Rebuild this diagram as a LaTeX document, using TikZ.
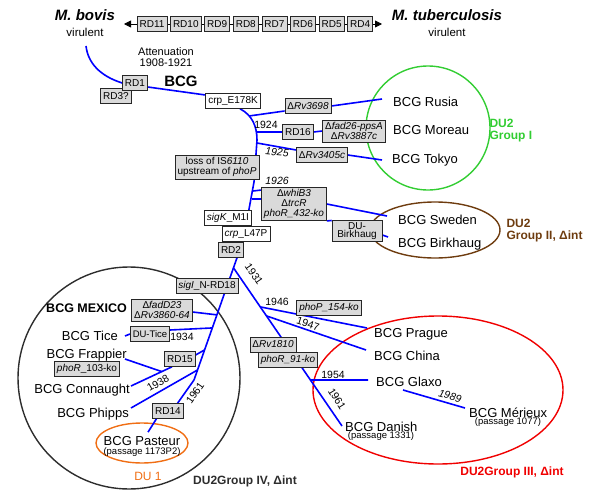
\documentclass[tikz,border=0pt]{standalone}
\usepackage{fontspec}
\setmainfont{Liberation Sans}
\usepackage{tikz}
\usetikzlibrary{positioning}
\usetikzlibrary{arrows.meta}

\definecolor{boxgray}{RGB}{218,218,218}
\definecolor{grpgreen}{RGB}{50,205,50}
\definecolor{grpbrown}{RGB}{110,60,15}
\definecolor{grporange}{RGB}{240,110,20}
\definecolor{grpred}{RGB}{240,0,0}
\definecolor{grpgray}{RGB}{45,45,45}

\pgfdeclarelayer{bg}
\pgfsetlayers{bg,main}

\begin{document}
\begin{tikzpicture}[x = 1pt, y = -1pt, node distance = 3pt,
                    gbox/.style    = {rectangle,
                                      draw = black!85,
                                      line width = 0.6pt,
                                      fill = boxgray,
                                      inner xsep = 2.5pt,
                                      inner ysep = 2pt,
                                      minimum height = 15pt,
                                      align = center,
                                      font = \fontsize{10}{10.5}\selectfont},
                    wbox/.style    = {gbox, fill = white},
                    strain/.style  = {inner sep = 1pt,
                                      text height = 9.3pt,
                                      text depth = 0pt,
                                      font = \fontsize{13}{14}\selectfont},
                    year/.style    = {inner sep = 0pt,
                                      font = \fontsize{10.5}{11}\selectfont},
                    passage/.style = {inner sep = 0pt,
                                      font = \fontsize{9.5}{10}\selectfont},
                    grplabel/.style = {anchor = west, align = left,
                                      font = \fontsize{12}{12}\selectfont\bfseries},
                    lineage/.style = {blue, line width = 1.6pt},
                    group/.style   = {line width = 1.4pt}]

\useasboundingbox (0,0) rectangle (589,495);

\node[font = \fontsize{15}{16}\selectfont\bfseries\itshape] (bovis) at (85,15) {M. bovis};
\node[font = \fontsize{11.5}{12}\selectfont] (bovisvir) at (85,32) {virulent};
\node[font = \fontsize{15}{16}\selectfont\bfseries\itshape] (tb) at (447,15) {M. tuberculosis};
\node[font = \fontsize{11.5}{12}\selectfont] (tbvir) at (447,32) {virulent};

\node[gbox] (RD11) at (152,24) {RD11};
\node[gbox] (RD10) [right = of RD11] {RD10};
\node[gbox] (RD9) [right = of RD10] {RD9};
\node[gbox] (RD8) [right = of RD9] {RD8};
\node[gbox] (RD7) [right = of RD8] {RD7};
\node[gbox] (RD6) [right = of RD7] {RD6};
\node[gbox] (RD5) [right = of RD6] {RD5};
\node[gbox] (RD4) [right = of RD5] {RD4};
\coordinate (arrL) at (124,24);
\coordinate (arrR) at (382,24);

\node[align = center, font = \fontsize{11}{10.5}\selectfont] (atten) at (166,57) {Attenuation\\1908-1921};
\node[font = \fontsize{15}{16}\selectfont\bfseries] (bcg) at (181,81) {BCG};
\coordinate (bovisroot) at (86,46);

\node[gbox] (rd3) at (116,96) {RD3?};
\node[gbox] (rd1) at (135,83) {RD1};
\node[wbox] (e178) at (233,101) {crp\_E178K};
\node[gbox] (d3698) at (308,106) {Δ\textit{Rv3698}};
\node[gbox] (rd16) at (298,132) {RD16};
\node[gbox] (fad26) at (354,131) {Δ\textit{fad26-ppsA}\\Δ\textit{Rv3887c}};
\node[gbox] (d3405) at (322,155) {Δ\textit{Rv3405c}};
\node[gbox] (loss) at (217,167) {loss of IS\textit{6110}\\upstream of \textit{phoP}};
\node[gbox, font = \fontsize{10}{10}\selectfont] (whib) at (294,204) {Δ\textit{whiB3}\\Δ\textit{trcR}\\\textit{phoR\_432-ko}};
\node[gbox, minimum width = 50pt, font = \fontsize{10}{7.5}\selectfont] (dubirk) at (357,231) {DU-\\Birkhaug};
\node[wbox] (sigK) at (228,218) {\textit{sigK}\_M1I};
\node[wbox] (L47P) at (246,234) {\textit{crp}\_L47P};
\node[gbox] (rd2) at (231,250) {RD2};

\node[strain, anchor = west] (rusia) at (392,102) {BCG Rusia};
\node[strain, anchor = west] (moreau) at (392,130) {BCG Moreau};
\node[strain, anchor = west] (tokyo) at (391,159) {BCG Tokyo};
\node[grplabel, text = grpgreen] (duI) at (486,131) {DU2\\Group I};

\node[strain, anchor = west] (sweden) at (397,220) {BCG Sweden};
\node[strain, anchor = west] (birkhaug) at (397,243) {BCG Birkhaug};
\node[grplabel, text = grpbrown] (duII) at (503,231) {DU2\\Group II, Δint};

\node[year] (y1924) at (266,125) {1924};
\node[year, font = \fontsize{10.5}{11}\selectfont\itshape, rotate = -5] (y1925) at (277,152) {1925};
\node[year, font = \fontsize{10.5}{11}\selectfont\itshape] (y1926) at (277,181) {1926};
\node[year, rotate = -56] (y1931) at (254,274) {1931};

\node[gbox] (sigI) at (207,286) {\textit{sigI}\_N-RD18};
\node[gbox] (fadD23) at (162,310) {Δ\textit{fadD23}\\Δ\textit{Rv3860-64}};
\node[gbox, font = \fontsize{9.5}{10}\selectfont] (dutice) at (150,334) {DU-Tice};
\node[gbox] (phoR103) at (87,369) {\textit{phoR}\_103-ko};
\node[gbox] (rd15) at (180,359) {RD15};
\node[gbox] (rd14) at (168,411) {RD14};

\node[strain, anchor = east, font = \fontsize{12.5}{14}\selectfont\bfseries] (mexico) at (128,308) {BCG MEXICO};
\node[strain, anchor = east] (tice) at (119,336) {BCG Tice};
\node[strain, anchor = east] (frappier) at (128,354) {BCG Frappier};
\node[strain, anchor = east] (connaught) at (131,389) {BCG Connaught};
\node[strain, anchor = east] (phipps) at (130,413) {BCG Phipps};
\node[strain] (pasteur) at (142,441) {BCG Pasteur};
\node[passage] (pasteurpass) at (142,452) {(passage 1173P2)};
\node[text = grporange, font = \fontsize{12}{12}\selectfont] (du1) at (148,476) {DU 1};
\node[text = grpgray, font = \fontsize{12}{12}\selectfont\bfseries] (duIV) at (245,481) {DU2Group IV, Δint};

\node[year] (y1934) at (182,337) {1934};
\node[year, rotate = 30] (y1938) at (158,383) {1938};
\node[year, rotate = 55] (y1961a) at (195,393) {1961};

\node[gbox] (phoP154) at (329,308) {\textit{phoP\_154-ko}};
\node[gbox] (dRv1810) at (273,344.5) {Δ\textit{Rv1810}};
\node[gbox] (phoR91) at (288,359.5) {\textit{phoR\_91-ko}};

\node[strain, anchor = west] (prague) at (373,333) {BCG Prague};
\node[strain, anchor = west] (china) at (373,356) {BCG China};
\node[strain, anchor = west] (glaxo) at (375,382) {BCG Glaxo};
\node[strain, anchor = west] (merieux) at (468,413) {BCG Mérieux};
\node[passage] (merieuxpass) at (508,422) {(passage 1077)};
\node[strain, anchor = west] (danish) at (344,427) {BCG Danish};
\node[passage] (danishpass) at (381,436) {(passage 1331)};
\node[grplabel, anchor = center, text = grpred] (duIII) at (512,472) {DU2Group III, Δint};

\node[year] (y1946) at (277,302) {1946};
\node[year, rotate = -18] (y1947) at (308,324) {1947};
\node[year] (y1954) at (333,375) {1954};
\node[year, rotate = -58] (y1961b) at (337,399) {1961};
\node[year, font = \fontsize{10.5}{11}\selectfont\itshape, rotate = -16] (y1989) at (450,396) {1989};

\begin{pgfonlayer}{bg}
\draw[grpgreen, group] (428,128) circle [radius = 62];
\draw[grpbrown, group] (435,230) ellipse [x radius = 65, y radius = 28];
\draw[grpred, group] (438,390) ellipse [x radius = 125, y radius = 74];
\draw[grpgray, group] (129,378) circle [radius = 111];
\draw[grporange, group] (142,443) ellipse [x radius = 46, y radius = 20];

\draw[thick] (RD11.west) -- (RD4.east);
\draw[thick, -{Triangle[length = 7pt, width = 7pt]}] (RD11.west) -- (arrL);
\draw[thick, -{Triangle[length = 7pt, width = 7pt]}] (RD4.east) -- (arrR);

\coordinate (tA) at (257,140);
\coordinate (tB) at (254,182);
\coordinate (j1) at (249,116);
\coordinate (j2) at (257,132);
\coordinate (j3) at (257,143);
\coordinate (j4) at (253,191);
\coordinate (j5) at (252,199);
\coordinate (tD) at (194,380);

\draw[lineage] (bovisroot) .. controls (88,63) and (100,76) .. (rd1.west);
\draw[lineage] ([yshift = -4pt]rd1.east) -- ([yshift = 6pt]e178.west);
\draw[lineage] ([xshift = 7pt]e178.south) .. controls (252,115) and (257,126) .. (tA) -- (tB) -- ([xshift = -3pt]sigK.north east);

\draw[lineage] (j1) -- ([yshift = -5pt]d3698.west);
\draw[lineage] (d3698.east) -- ([xshift = -10pt, yshift = 3pt]rusia.west);
\draw[lineage] (j2) -- (rd16.west);
\draw[lineage] (rd16.east) -- (fad26.west);
\draw[lineage] (j3) -- ([yshift = 5pt]d3405.west);
\draw[lineage] (d3405.east) -- ([xshift = -9pt, yshift = -1pt]tokyo.west);
\draw[lineage] (j4) -- ([yshift = -3pt]whib.north west);
\draw[lineage] (j5) -- ([yshift = 5pt]whib.west);
\draw[lineage] (whib.east) -- ([xshift = -10pt, yshift = 4pt]sweden.west);
\draw[lineage] (whib.south east) -- (dubirk.north west);
\draw[lineage] ([yshift = -4pt]dubirk.east) -- ([xshift = -9pt, yshift = 6pt]birkhaug.west);

\draw[lineage] ([xshift = 6pt]rd2.south) -- coordinate[pos = 0.082] (k1931)
                                            coordinate[pos = 0.467] (kfad)
                                            coordinate[pos = 0.574] (ktice)
                                            coordinate[pos = 0.754] (krd15)
                                            coordinate[pos = 0.918] (kphipps) (tD);
\draw[lineage] (k1931) -- coordinate[pos = 0.247] (k1946)
                          coordinate[pos = 0.304] (k1947)
                          coordinate[pos = 0.709] (k1954) ([xshift = -2pt, yshift = 1pt]danish.west);
\draw[lineage] (k1946) -- ([xshift = -6pt, yshift = 5pt]prague.west);
\draw[lineage] (k1947) -- ([xshift = -7pt, yshift = 6pt]china.west);
\draw[lineage] (k1954) -- ([xshift = -7pt, yshift = 2pt]glaxo.west);
\draw[lineage] ([xshift = 28pt, yshift = -8pt]glaxo.west) -- ([xshift = -3pt, yshift = 5pt]merieux.west);

\draw[lineage] ([yshift = -2pt]fadD23.east) -- (kfad);
\draw[lineage] ([xshift = 6pt]tice.east) -- (dutice.west);
\draw[lineage] ([yshift = 4pt]dutice.east) -- (ktice);
\draw[lineage] (krd15) -- ([yshift = 4pt]rd15.east);
\draw[lineage] ([xshift = -8pt]rd15.south) -- coordinate[pos = 0.25] (jfrap) ([yshift = 3pt]connaught.east);
\draw[lineage] ([xshift = -3pt, yshift = -5pt]frappier.east) -- (jfrap);
\draw[lineage] ([xshift = 1pt, yshift = 5pt]phipps.east) -- (kphipps);
\draw[lineage] (tD) -- ([xshift = -6pt]rd14.north east);
\draw[lineage] ([xshift = 4pt]rd14.south west) -- ([xshift = 6pt, yshift = 3pt]pasteur.north);
\end{pgfonlayer}

\end{tikzpicture}
\end{document}
